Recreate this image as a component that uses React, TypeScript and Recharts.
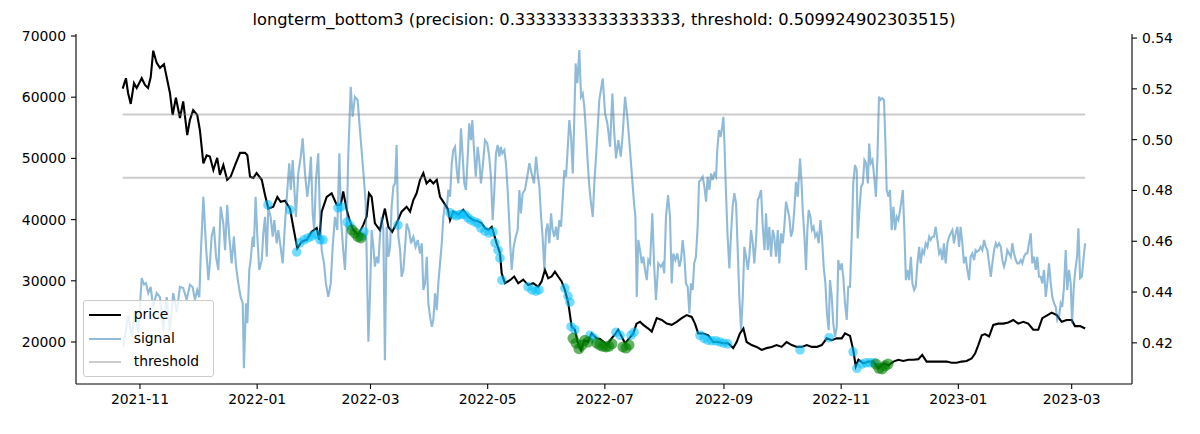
import React from 'react';
import { ComposedChart, Line, Scatter, XAxis, YAxis } from 'recharts';

const TITLE = 'longterm_bottom3 (precision: 0.3333333333333333, threshold: 0.509924902303515)';

// x values are days since 2021-11-01
const tickDays = [0, 61, 120, 181, 242, 304, 365, 426, 485];
const tickLabels = ['2021-11', '2022-01', '2022-03', '2022-05', '2022-07', '2022-09', '2022-11', '2023-01', '2023-03'];
const priceTicks = [20000, 30000, 40000, 50000, 60000, 70000];
const signalTicks = [0.42, 0.44, 0.46, 0.48, 0.5, 0.52, 0.54];

const priceDay = [
  -9.0, -7.3, -6.2, -4.8, -3.1, -1.7, 0.9, 2.6, 4.2, 5.6, 6.9, 8.7, 10.4, 12.5, 14.2, 15.6, 17.0, 18.7, 20.8, 22.5,
  24.6, 26.0, 27.7, 29.8, 31.2, 33.0, 34.7, 36.4, 38.2, 40.2, 41.6, 43.4, 45.4, 47.2, 49.5, 52.1, 54.7, 55.9, 57.3, 59.0,
  60.7, 63.4, 65.1, 66.8, 69.4, 71.5, 73.2, 75.5, 78.1, 79.8, 81.9, 84.2, 86.8, 89.4, 92.0, 93.3, 94.6, 97.2, 99.8, 102.4,
  104.5, 105.8, 107.6, 109.3, 111.0, 113.6, 116.2, 118.0, 119.2, 120.6, 122.3, 124.9, 127.5, 129.3, 131.3, 133.6, 136.2, 138.8, 140.6, 142.3,
  144.0, 145.8, 147.5, 149.2, 151.0, 152.7, 154.5, 156.2, 157.9, 160.2, 161.4, 163.1, 165.7, 168.3, 170.9, 173.5, 176.1, 177.9, 179.6, 181.3,
  183.1, 183.9, 185.7, 187.4, 188.3, 190.0, 192.6, 194.8, 196.9, 199.5, 202.1, 204.7, 207.3, 209.1, 210.8, 212.5, 214.3, 216.0, 217.7, 219.5,
  221.2, 223.0, 224.7, 226.4, 227.8, 229.6, 231.3, 233.1, 235.1, 237.7, 239.5, 241.5, 243.2, 245.5, 247.7, 248.9, 250.7, 252.5, 254.7, 256.8,
  258.5, 260.3, 262.0, 264.6, 266.4, 269.0, 271.6, 274.2, 276.8, 279.4, 282.0, 284.6, 287.2, 288.9, 290.6, 293.2, 295.8, 298.4, 301.0, 303.6,
  306.2, 308.8, 310.6, 312.3, 314.1, 315.8, 318.4, 321.0, 323.6, 326.2, 328.8, 331.4, 334.0, 336.6, 339.3, 341.9, 344.5, 347.1, 349.7, 352.3,
  354.9, 357.5, 360.1, 362.7, 365.3, 367.0, 369.6, 371.3, 372.6, 374.0, 376.5, 379.2, 381.7, 384.4, 387.0, 389.6, 392.2, 394.8, 397.3, 400.0,
  402.6, 405.2, 407.2, 409.5, 412.1, 414.7, 417.3, 419.9, 422.5, 425.1, 427.7, 430.3, 432.9, 434.7, 436.4, 438.2, 439.9, 442.0, 444.2, 446.8,
  449.4, 452.0, 454.6, 457.2, 459.8, 462.4, 465.0, 467.6, 469.7, 472.0, 474.6, 477.2, 479.8, 482.4, 485.0, 486.7, 489.4, 492.0,
];
const priceValue = [
  61400, 63100, 60700, 58900, 62300, 61500, 63100, 62000, 61500, 63300, 67600, 65600, 64800, 65400, 62800, 60700, 57100, 59900, 56600, 59300,
  53800, 56300, 57900, 57100, 54600, 49200, 50500, 50300, 48100, 50100, 47300, 48900, 46500, 47000, 48900, 50900, 50900, 50500, 47000, 46800,
  47600, 46500, 44000, 41800, 42100, 43700, 42900, 43100, 41800, 38800, 35300, 36400, 36700, 38000, 38600, 36700, 41300, 43700, 44300, 42400,
  42400, 44600, 41600, 39700, 38300, 37500, 39100, 40500, 44300, 43700, 39400, 38300, 41800, 38800, 38000, 39400, 41300, 42100, 41300, 43200,
  44300, 46500, 47600, 45900, 46500, 45900, 46500, 43700, 42900, 41800, 39900, 41300, 40800, 41600, 40500, 39900, 39700, 39400, 38600, 38300,
  38800, 38000, 36100, 34500, 31200, 29600, 30100, 30700, 29600, 30200, 29300, 29600, 29000, 29900, 31800, 30400, 30700, 31500, 30700, 29900,
  28500, 26300, 22500, 22000, 20000, 18700, 20300, 20000, 21400, 20600, 20500, 20000, 19500, 20600, 21400, 22000, 20900, 19800, 20600, 21400,
  23000, 23300, 22800, 22200, 21700, 23900, 23600, 23000, 22800, 23300, 23900, 24400, 24100, 23000, 21400, 21400, 21100, 20000, 20000, 19800,
  19800, 19000, 20000, 21400, 22200, 20000, 19500, 19200, 18700, 19000, 19200, 19500, 19200, 20000, 19500, 19200, 19200, 19500, 19200, 19200,
  19500, 20600, 20300, 20600, 20600, 21400, 21000, 18700, 16000, 17100, 16500, 16800, 16800, 15700, 16500, 16200, 16800, 17100, 16900, 17100,
  17100, 17200, 17900, 16800, 16800, 16800, 16800, 16800, 16600, 16600, 16800, 16900, 17300, 18100, 19500, 21100, 21300, 20900, 22800, 23000,
  23000, 23200, 23600, 23000, 23300, 23000, 22000, 22000, 23900, 24300, 24800, 24400, 23300, 23600, 23600, 22600, 22600, 22200,
];

const signalDay = [
  -8.7, -6.1, -4.3, -2.6, -0.9, 0.9, 2.1, 3.1, 4.3, 5.6, 6.8, 8.7, 10.4, 12.1, 13.9, 15.6, 17.3, 19.1, 20.8, 22.5,
  24.3, 26.0, 27.4, 28.6, 29.8, 30.9, 31.6, 33.0, 34.4, 35.6, 36.4, 37.3, 38.5, 39.6, 40.8, 42.0, 43.4, 44.3, 45.4, 46.5,
  47.7, 48.9, 50.0, 51.2, 52.4, 53.5, 54.1, 55.2, 55.9, 56.9, 57.6, 58.7, 59.3, 60.2, 61.1, 62.1, 63.4, 64.2, 65.1, 66.0,
  66.8, 68.0, 69.1, 69.9, 71.2, 72.0, 73.2, 74.3, 75.5, 76.7, 77.7, 78.5, 79.5, 80.3, 81.2, 82.4, 83.7, 84.7, 85.9, 87.1,
  88.1, 89.0, 89.9, 90.7, 91.6, 92.8, 93.7, 94.6, 95.8, 96.8, 98.0, 99.3, 100.3, 101.5, 102.7, 103.8, 104.6, 105.8, 106.7, 107.6,
  108.4, 109.7, 110.7, 111.9, 113.3, 114.5, 116.2, 117.5, 118.9, 119.7, 120.6, 121.5, 122.3, 123.2, 124.1, 124.9, 125.8, 126.7, 127.5, 128.4,
  129.3, 130.2, 131.0, 131.9, 132.8, 133.6, 134.5, 135.4, 136.2, 137.1, 138.0, 138.8, 140.0, 141.1, 142.3, 143.5, 144.6, 145.8, 146.7, 147.5,
  148.4, 149.3, 150.1, 151.0, 151.9, 152.7, 153.6, 154.5, 155.3, 156.2, 157.1, 157.9, 158.8, 159.7, 160.5, 161.4, 162.3, 163.1, 164.0, 164.9,
  165.7, 166.6, 167.1, 167.8, 168.8, 169.7, 170.6, 171.4, 172.3, 173.0, 173.9, 174.8, 175.8, 176.6, 177.5, 178.4, 179.6, 180.8, 181.8, 182.7,
  183.6, 184.4, 185.3, 186.2, 187.1, 187.8, 188.6, 189.7, 190.5, 191.4, 192.1, 192.8, 193.5, 194.5, 195.6, 196.6, 197.5, 198.3, 199.2, 200.4,
  201.6, 202.7, 203.9, 205.1, 206.2, 207.0, 207.9, 208.8, 209.6, 210.5, 211.4, 212.2, 213.1, 214.0, 214.8, 215.7, 216.6, 217.4, 218.3, 219.2,
  220.0, 220.9, 221.8, 222.7, 223.5, 224.4, 225.3, 226.1, 226.8, 227.7, 228.7, 229.6, 230.5, 231.3, 232.2, 233.1, 233.9, 234.8, 235.7, 236.5,
  237.4, 238.3, 239.1, 240.9, 242.1, 243.3, 244.7, 245.9, 246.8, 247.8, 249.0, 250.3, 251.3, 252.5, 253.7, 254.7, 256.0, 257.2, 257.9, 258.6,
  259.4, 260.3, 261.2, 262.0, 262.9, 263.8, 264.6, 265.5, 266.7, 267.6, 268.6, 269.8, 271.1, 272.1, 272.9, 273.8, 274.9, 275.9, 276.8, 277.6,
  278.7, 279.7, 280.8, 281.6, 282.5, 283.4, 284.2, 285.1, 286.0, 286.8, 287.7, 288.5, 289.4, 290.3, 291.0, 291.9, 292.9, 293.8, 294.7, 295.5,
  296.4, 297.3, 298.1, 299.0, 299.9, 300.5, 301.4, 302.3, 303.1, 303.7, 304.2, 305.0, 305.9, 306.8, 307.6, 308.5, 309.4, 310.3, 311.1, 312.0,
  312.9, 313.8, 314.6, 315.5, 316.4, 317.2, 318.1, 319.0, 319.8, 320.7, 321.6, 322.4, 323.3, 324.2, 325.1, 325.9, 326.8, 327.6, 328.5, 329.4,
  330.2, 331.1, 332.0, 332.8, 333.7, 334.6, 335.4, 336.3, 337.2, 338.0, 338.9, 339.8, 340.6, 341.5, 342.4, 343.1, 343.6, 344.3, 345.0, 345.9,
  346.7, 347.4, 348.1, 349.0, 349.8, 350.7, 351.5, 352.4, 353.3, 354.2, 355.0, 355.9, 356.8, 357.6, 358.5, 359.2, 360.1, 360.9, 361.8, 362.7,
  363.5, 364.4, 365.3, 366.1, 367.0, 367.9, 368.7, 369.6, 370.5, 371.3, 372.2, 373.1, 373.6, 374.5, 375.4, 376.3, 377.1, 378.0, 378.9, 379.6,
  380.4, 381.3, 382.2, 383.1, 383.9, 384.7, 385.5, 386.4, 387.3, 388.0, 388.7, 389.6, 390.4, 391.3, 392.2, 393.1, 393.9, 394.8, 396.2, 397.1,
  397.9, 398.7, 399.5, 400.4, 401.3, 402.1, 403.0, 403.8, 404.7, 405.6, 406.4, 407.3, 408.1, 409.0, 409.9, 410.8, 411.6, 412.5, 413.3, 414.2,
  415.1, 416.0, 416.8, 417.7, 418.5, 419.4, 420.3, 421.2, 422.0, 422.9, 423.7, 424.6, 425.5, 426.4, 427.2, 428.1, 428.9, 429.8, 430.7, 431.6,
  432.4, 433.3, 434.2, 435.0, 435.9, 436.8, 437.6, 438.5, 439.4, 440.3, 441.1, 442.0, 442.9, 443.7, 444.6, 445.5, 446.3, 447.2, 448.1, 448.9,
  449.8, 450.7, 451.5, 452.4, 453.3, 454.1, 455.0, 455.9, 456.7, 457.6, 458.5, 459.3, 460.2, 461.1, 461.9, 462.8, 463.7, 464.5, 465.4, 466.3,
  467.1, 468.0, 468.9, 469.7, 470.6, 471.5, 472.3, 473.2, 474.1, 474.9, 475.8, 476.7, 477.5, 478.4, 479.3, 480.1, 481.0, 481.9, 482.7, 483.6,
  484.5, 485.2, 486.1, 486.9, 487.8, 488.5, 489.4, 490.3, 491.1, 492.0,
];
const signalValue = [
  0.4185, 0.4309, 0.4224, 0.4329, 0.4239, 0.4455, 0.443, 0.4435, 0.4396, 0.442, 0.434, 0.4396, 0.438, 0.425, 0.438, 0.425, 0.4396, 0.432, 0.442, 0.4416,
  0.437, 0.4428, 0.442, 0.437, 0.4408, 0.438, 0.4538, 0.4775, 0.4578, 0.4447, 0.4514, 0.4618, 0.4657, 0.4539, 0.4487, 0.4736, 0.467, 0.4565, 0.4743, 0.4618,
  0.4513, 0.4618, 0.45, 0.4434, 0.4381, 0.4356, 0.41, 0.4356, 0.4277, 0.4487, 0.4526, 0.4618, 0.4578, 0.4775, 0.4618, 0.4487, 0.4526, 0.4631, 0.4696, 0.4539,
  0.4736, 0.4696, 0.4618, 0.4683, 0.4592, 0.4644, 0.4578, 0.4513, 0.467, 0.4802, 0.4907, 0.4802, 0.492, 0.4815, 0.4696, 0.4867, 0.4933, 0.5005, 0.4867, 0.4775,
  0.4841, 0.4933, 0.471, 0.4644, 0.4841, 0.4946, 0.4696, 0.4565, 0.4513, 0.4434, 0.4381, 0.4434, 0.4578, 0.4696, 0.4644, 0.4946, 0.4696, 0.4565, 0.4487, 0.4644,
  0.4933, 0.5208, 0.509, 0.5169, 0.5156, 0.5038, 0.488, 0.4749, 0.4204, 0.4381, 0.4644, 0.4578, 0.45, 0.4539, 0.4513, 0.4618, 0.4696, 0.4644, 0.4132, 0.4657,
  0.4539, 0.4578, 0.4736, 0.4815, 0.4828, 0.4979, 0.4618, 0.4565, 0.446, 0.4487, 0.4578, 0.467, 0.4644, 0.4592, 0.4618, 0.4578, 0.4605, 0.4552, 0.4592, 0.4408,
  0.4434, 0.4539, 0.4356, 0.4303, 0.4263, 0.429, 0.4395, 0.4329, 0.4434, 0.4513, 0.4592, 0.4696, 0.4749, 0.4723, 0.4802, 0.4775, 0.4907, 0.4959, 0.4972, 0.488,
  0.4828, 0.4946, 0.5045, 0.4959, 0.4828, 0.4802, 0.4933, 0.5064, 0.4998, 0.5077, 0.4959, 0.4854, 0.4972, 0.492, 0.4828, 0.4893, 0.4998, 0.4985, 0.4933, 0.4854,
  0.4683, 0.4789, 0.4946, 0.4979, 0.4933, 0.4972, 0.4946, 0.4959, 0.4907, 0.4802, 0.4696, 0.4578, 0.4487, 0.4578, 0.4618, 0.4644, 0.4802, 0.471, 0.4789, 0.4802,
  0.4854, 0.4907, 0.4867, 0.4828, 0.4933, 0.4867, 0.4815, 0.4696, 0.4618, 0.4487, 0.4644, 0.467, 0.4592, 0.471, 0.4644, 0.4618, 0.4657, 0.4605, 0.4683, 0.4657,
  0.4762, 0.488, 0.4854, 0.4972, 0.5077, 0.5011, 0.4867, 0.509, 0.53, 0.5222, 0.5353, 0.5169, 0.5182, 0.513, 0.5025, 0.4907, 0.4815, 0.4749, 0.4696, 0.4828,
  0.4933, 0.5051, 0.5156, 0.5241, 0.5104, 0.5064, 0.4972, 0.5182, 0.5038, 0.4926, 0.4998, 0.4933, 0.5025, 0.5169, 0.509, 0.4998, 0.4867, 0.4749, 0.4696, 0.4381,
  0.4605, 0.4565, 0.4513, 0.4539, 0.4487, 0.4447, 0.4526, 0.4513, 0.471, 0.4513, 0.4368, 0.4513, 0.45, 0.4513, 0.4474, 0.4696, 0.4782, 0.4696, 0.4434, 0.4552,
  0.4526, 0.4552, 0.45, 0.4526, 0.4605, 0.4539, 0.4434, 0.4421, 0.4316, 0.4434, 0.4408, 0.4513, 0.4539, 0.4657, 0.4834, 0.4841, 0.4854, 0.4815, 0.4756, 0.4854,
  0.4802, 0.4867, 0.4841, 0.4867, 0.4854, 0.4959, 0.5038, 0.5011, 0.5051, 0.509, 0.4998, 0.4802, 0.4618, 0.4493, 0.4618, 0.4736, 0.4789, 0.4749, 0.4578, 0.4381,
  0.425, 0.4381, 0.4578, 0.4539, 0.4487, 0.4539, 0.4644, 0.4592, 0.4513, 0.4605, 0.4762, 0.4775, 0.4802, 0.4657, 0.4565, 0.471, 0.4565, 0.4657, 0.4539, 0.4644,
  0.4618, 0.4539, 0.4644, 0.4513, 0.4631, 0.4592, 0.4657, 0.4756, 0.4723, 0.4696, 0.4618, 0.4644, 0.4723, 0.4834, 0.4775, 0.4867, 0.4926, 0.4841, 0.4723, 0.4618,
  0.4487, 0.4644, 0.4723, 0.4696, 0.4644, 0.4657, 0.4618, 0.4631, 0.4592, 0.4683, 0.4618, 0.45, 0.4434, 0.4316, 0.425, 0.4447, 0.4381, 0.4277, 0.4224, 0.4263,
  0.4526, 0.4487, 0.4513, 0.446, 0.4356, 0.429, 0.4421, 0.4421, 0.4618, 0.4828, 0.49, 0.488, 0.4611, 0.4723, 0.4815, 0.4828, 0.492, 0.4907, 0.4828, 0.4985,
  0.4907, 0.492, 0.4854, 0.4775, 0.4933, 0.5169, 0.5156, 0.5163, 0.5156, 0.4998, 0.4802, 0.4775, 0.4802, 0.4644, 0.4736, 0.4644, 0.4696, 0.4683, 0.4749, 0.4802,
  0.4644, 0.4447, 0.4487, 0.4447, 0.4539, 0.4434, 0.4408, 0.4421, 0.4513, 0.4578, 0.4513, 0.4565, 0.4552, 0.4592, 0.4578, 0.4618, 0.4605, 0.4618, 0.4618, 0.4657,
  0.4605, 0.4552, 0.4565, 0.4526, 0.4592, 0.4513, 0.4592, 0.4618, 0.4631, 0.4644, 0.4592, 0.4631, 0.4657, 0.4578, 0.4657, 0.4592, 0.4513, 0.4539, 0.4487, 0.4447,
  0.4539, 0.4552, 0.4526, 0.4565, 0.4559, 0.4565, 0.4578, 0.4565, 0.4605, 0.4578, 0.4565, 0.4513, 0.446, 0.4513, 0.4565, 0.4592, 0.4578, 0.4592, 0.4578, 0.4526,
  0.45, 0.4526, 0.4565, 0.4552, 0.4539, 0.4592, 0.4552, 0.4526, 0.4513, 0.4513, 0.4526, 0.4513, 0.4539, 0.4552, 0.4552, 0.4592, 0.4631, 0.4513, 0.4539, 0.4487,
  0.4539, 0.446, 0.446, 0.4434, 0.4487, 0.4381, 0.4434, 0.4513, 0.4434, 0.4381, 0.4356, 0.4342, 0.429, 0.4303, 0.4356, 0.4342, 0.4421, 0.4565, 0.4408, 0.4487,
  0.4434, 0.4277, 0.4421, 0.4487, 0.4539, 0.4651, 0.4454, 0.446, 0.4526, 0.4592,
];

const thresholdDay = [-9.0, 492.0];
const thresholdUpper = 0.509924902303515;
const thresholdLower = 0.485;

// light-blue hits on the price line
const hitDay = [
  66.6, 78.1, 81.6, 83.3, 85.4, 87.5, 89.5, 91.6, 93.7, 95.3, 103.1, 104.6, 107.8, 109.3, 115.6, 116.6, 134.3, 161.4, 163.1, 164.7,
  166.3, 167.6, 169.2, 170.7, 172.3, 174.4, 176.0, 177.5, 179.6, 181.7, 183.8, 184.8, 186.4, 187.4, 188.4, 202.0, 204.1, 206.1, 207.7, 221.2,
  222.8, 223.8, 224.4, 226.4, 234.3, 236.3, 247.8, 249.9, 255.6, 257.2, 291.5, 293.6, 295.6, 297.7, 299.8, 301.9, 303.9, 306.0, 343.6, 358.7,
  371.2, 373.2, 375.8, 377.9, 380.0, 382.1,
];
const hitPrice = [
  42400, 41600, 34700, 36200, 36700, 37000, 37300, 37600, 36700, 36700, 41900, 42100, 39600, 39000, 37300, 38000, 39100, 41100, 40800, 40600,
  40800, 40900, 40800, 40300, 39900, 39600, 39400, 38600, 38100, 37800, 38000, 36200, 35000, 33700, 30100, 29000, 28500, 28300, 28500, 28800,
  27500, 26500, 22500, 22000, 21100, 20600, 21600, 21100, 21100, 21600, 21100, 20600, 20300, 20200, 20200, 20000, 19800, 19700, 18700, 20700,
  18400, 15700, 16400, 16600, 16600, 16600,
];

// green bottoms
const bottomDay = [
  110.4, 111.9, 113.5, 115.0, 225.4, 227.0, 228.5, 230.1, 231.6, 233.2, 237.8, 239.4, 241.0, 242.6, 244.1, 245.7, 251.4, 253.0, 254.6, 383.1,
  384.7, 386.3, 387.8, 389.4,
];
const bottomPrice = [
  38300, 37800, 37200, 37000, 20600, 19800, 18900, 19500, 20300, 20000, 19800, 19500, 19300, 19200, 19300, 19700, 19200, 19000, 19500, 16400,
  15700, 15600, 16100, 16400,
];

const priceData = priceDay.map((d, i) => ({ d, p: priceValue[i] }));
const signalData = signalDay.map((d, i) => ({ d, s: signalValue[i] }));
const upperData = thresholdDay.map((d) => ({ d, t: thresholdUpper }));
const lowerData = thresholdDay.map((d) => ({ d, t: thresholdLower }));
const hitData = hitDay.map((d, i) => ({ d, p: hitPrice[i] }));
const bottomData = bottomDay.map((d, i) => ({ d, p: bottomPrice[i] }));

const FONT = "'DejaVu Sans', sans-serif";
const tickStyle = { fill: '#000', fontSize: 13.9, fontFamily: FONT };
const SIGNAL_COLOR = '#1f77b4';

const HitDot = (props: any) => (
  <circle cx={props.cx} cy={props.cy} r={4.8} fill="#00bfff" fillOpacity={0.55} />
);
const BottomDot = (props: any) => (
  <circle cx={props.cx} cy={props.cy} r={5.5} fill="#008000" fillOpacity={0.6} />
);

const legendItems = [
  { label: 'price', color: '#000', opacity: 1 },
  { label: 'signal', color: SIGNAL_COLOR, opacity: 0.5 },
  { label: 'threshold', color: '#808080', opacity: 0.4 },
];

export default function App() {
  return (
    <div style={{ position: 'relative', width: 1184, height: 418, fontFamily: FONT }}>
      <div
        style={{
          position: 'absolute',
          left: 68,
          top: 3,
          width: 1056,
          textAlign: 'center',
          fontSize: 16.3,
          lineHeight: '17px',
          color: '#000',
          whiteSpace: 'nowrap',
        }}
      >
        {TITLE}
      </div>
      <ComposedChart width={1184} height={418} margin={{ top: 26, right: 0, bottom: 0, left: 0 }}>
        <XAxis
          dataKey="d"
          type="number"
          domain={[-33.3, 516.4]}
          allowDataOverflow
          ticks={tickDays}
          tickFormatter={(v: number) => tickLabels[tickDays.indexOf(v)] ?? ''}
          height={42}
          tick={tickStyle}
          tickSize={5}
          tickMargin={5}
          axisLine={{ stroke: '#000', strokeWidth: 1.1 }}
          tickLine={{ stroke: '#000', strokeWidth: 1.1 }}
          interval={0}
        />
        <XAxis
          xAxisId="top"
          orientation="top"
          dataKey="d"
          type="number"
          domain={[-33.3, 516.4]}
          allowDataOverflow
          height={0}
          tick={false}
          tickLine={false}
          axisLine={{ stroke: '#000', strokeWidth: 1.1 }}
        />
        <YAxis
          yAxisId="price"
          type="number"
          domain={[13137, 70327]}
          allowDataOverflow
          ticks={priceTicks}
          width={68}
          tick={tickStyle}
          tickSize={5}
          tickMargin={5}
          axisLine={{ stroke: '#000', strokeWidth: 1.1 }}
          tickLine={{ stroke: '#000', strokeWidth: 1.1 }}
          interval={0}
        />
        <YAxis
          yAxisId="signal"
          orientation="right"
          type="number"
          domain={[0.4038, 0.5416]}
          allowDataOverflow
          ticks={signalTicks}
          tickFormatter={(v: number) => v.toFixed(2)}
          width={60}
          tick={tickStyle}
          tickSize={5}
          tickMargin={5}
          axisLine={{ stroke: '#000', strokeWidth: 1.1 }}
          tickLine={{ stroke: '#000', strokeWidth: 1.1 }}
          interval={0}
        />
        <Scatter data={hitData} dataKey="p" yAxisId="price" shape={HitDot} isAnimationActive={false} />
        <Scatter data={bottomData} dataKey="p" yAxisId="price" shape={BottomDot} isAnimationActive={false} />
        <Line
          data={priceData}
          dataKey="p"
          yAxisId="price"
          type="linear"
          stroke="#000"
          strokeWidth={2.1}
          dot={false}
          activeDot={false}
          isAnimationActive={false}
        />
        <Line
          data={signalData}
          dataKey="s"
          yAxisId="signal"
          type="linear"
          stroke={SIGNAL_COLOR}
          strokeOpacity={0.5}
          strokeWidth={2.1}
          dot={false}
          activeDot={false}
          isAnimationActive={false}
        />
        <Line
          data={upperData}
          dataKey="t"
          yAxisId="signal"
          type="linear"
          stroke="#808080"
          strokeOpacity={0.4}
          strokeWidth={2.1}
          dot={false}
          activeDot={false}
          isAnimationActive={false}
        />
        <Line
          data={lowerData}
          dataKey="t"
          yAxisId="signal"
          type="linear"
          stroke="#808080"
          strokeOpacity={0.4}
          strokeWidth={2.1}
          dot={false}
          activeDot={false}
          isAnimationActive={false}
        />
      </ComposedChart>
      <div
        style={{
          position: 'absolute',
          left: 74.7,
          top: 292,
          width: 131,
          height: 77,
          boxSizing: 'border-box',
          border: '1px solid #cccccc',
          borderRadius: 3,
          background: 'rgba(255,255,255,0.8)',
        }}
      >
        {legendItems.map((it, i) => (
          <div key={it.label}>
            <div
              style={{
                position: 'absolute',
                left: 5,
                top: 13.3 + i * 23.4,
                width: 32,
                height: 2.1,
                background: it.color,
                opacity: it.opacity,
              }}
            />
            <div
              style={{
                position: 'absolute',
                left: 50,
                top: 14.3 + i * 23.4 - 9,
                fontSize: 13.9,
                lineHeight: '16px',
                color: '#000',
                whiteSpace: 'nowrap',
              }}
            >
              {it.label}
            </div>
          </div>
        ))}
      </div>
    </div>
  );
}
